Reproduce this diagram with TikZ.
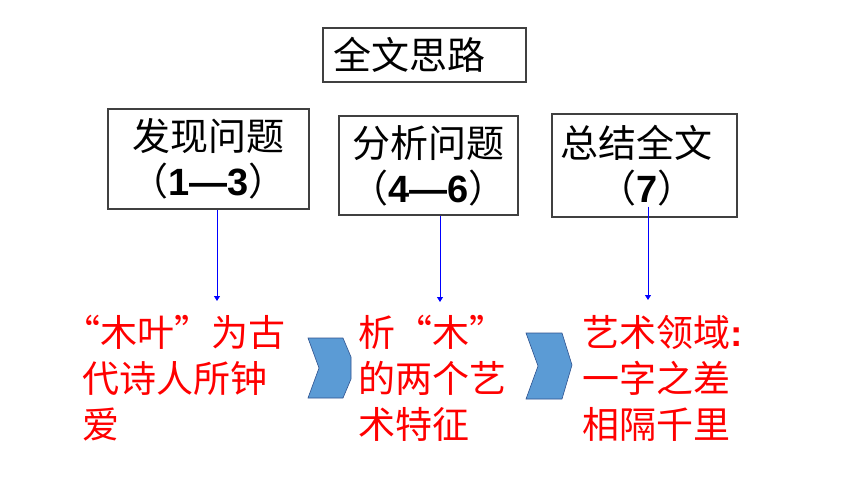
\documentclass[tikz,border=0pt]{standalone}
\usepackage{fontspec}
\setmainfont{Liberation Sans}
\newfontfamily\cjk{Noto Sans CJK SC}
\usetikzlibrary{arrows.meta}
\definecolor{chevfill}{RGB}{91,155,213}
\definecolor{chevline}{RGB}{47,82,143}
\definecolor{boxline}{RGB}{64,64,64}

\begin{document}
\begin{tikzpicture}[x=1pt,y=-1pt,
	every node/.style={font=\cjk\fontsize{38}{45}\selectfont},
	box/.style={draw=boxline,line width=1.4pt,inner sep=0pt,align=center},
	redtext/.style={text=red,anchor=north west,inner sep=0pt,align=left,font=\cjk\fontsize{37}{46}\selectfont},
	link/.style={blue,line width=0.8pt,-{Triangle[width=6pt,length=5pt]}},
	chev/.style={fill=chevfill,draw=chevline,line width=0.6pt}]
	\useasboundingbox (0,0) rectangle (860,484);
	% boxes
	\node[box,minimum width=203pt,minimum height=54pt,text width=183pt,align=left] (title) at (424.5,55) {全文思路};
	\node[box,minimum width=201pt,minimum height=100pt] (find) at (208.5,159) {发现问题\\（{\rmfamily\bfseries 1—3}）};
	\node[box,minimum width=179pt,minimum height=99pt] (analyse) at (428.5,165.5) {分析问题\\（{\rmfamily\bfseries 4—6}）};
	\node[box,minimum width=185pt,minimum height=103pt,text width=169pt,align=left] (sum) at (644.5,165.5) {总结全文\\\hspace*{1em}（{\rmfamily\bfseries 7}）};
	% red texts
	\node[redtext] (love) at (82,315) {\hspace*{-0.5em}“木叶”为古\\代诗人所钟\\爱};
	\node[redtext] (wood) at (358,315) {析“木”\\的两个艺\\术特征};
	\node[redtext] (art) at (582,315) {艺术领域{\rmfamily\bfseries :}\\一字之差\\相隔千里};
	% arrows
	\coordinate (tip1) at (217,301);
	\coordinate (tip2) at (440,302);
	\coordinate (tip3) at (648,300);
	\draw[link] (find.south -| tip1) -- (tip1);
	\draw[link] (analyse.south -| tip2) -- (tip2);
	\draw[link] (sum.south -| tip3) ++(0,-11) -- (tip3);
	% chevrons
	\draw[chev] (308,338) -- (343,338) -- (351,357) -- (351,379) -- (343,398) -- (308,398) -- (319,368) -- cycle;
	\draw[chev] (526,333) -- (562,333) -- (572,365) -- (562,399) -- (526,399) -- (538,366) -- cycle;
\end{tikzpicture}
\end{document}
